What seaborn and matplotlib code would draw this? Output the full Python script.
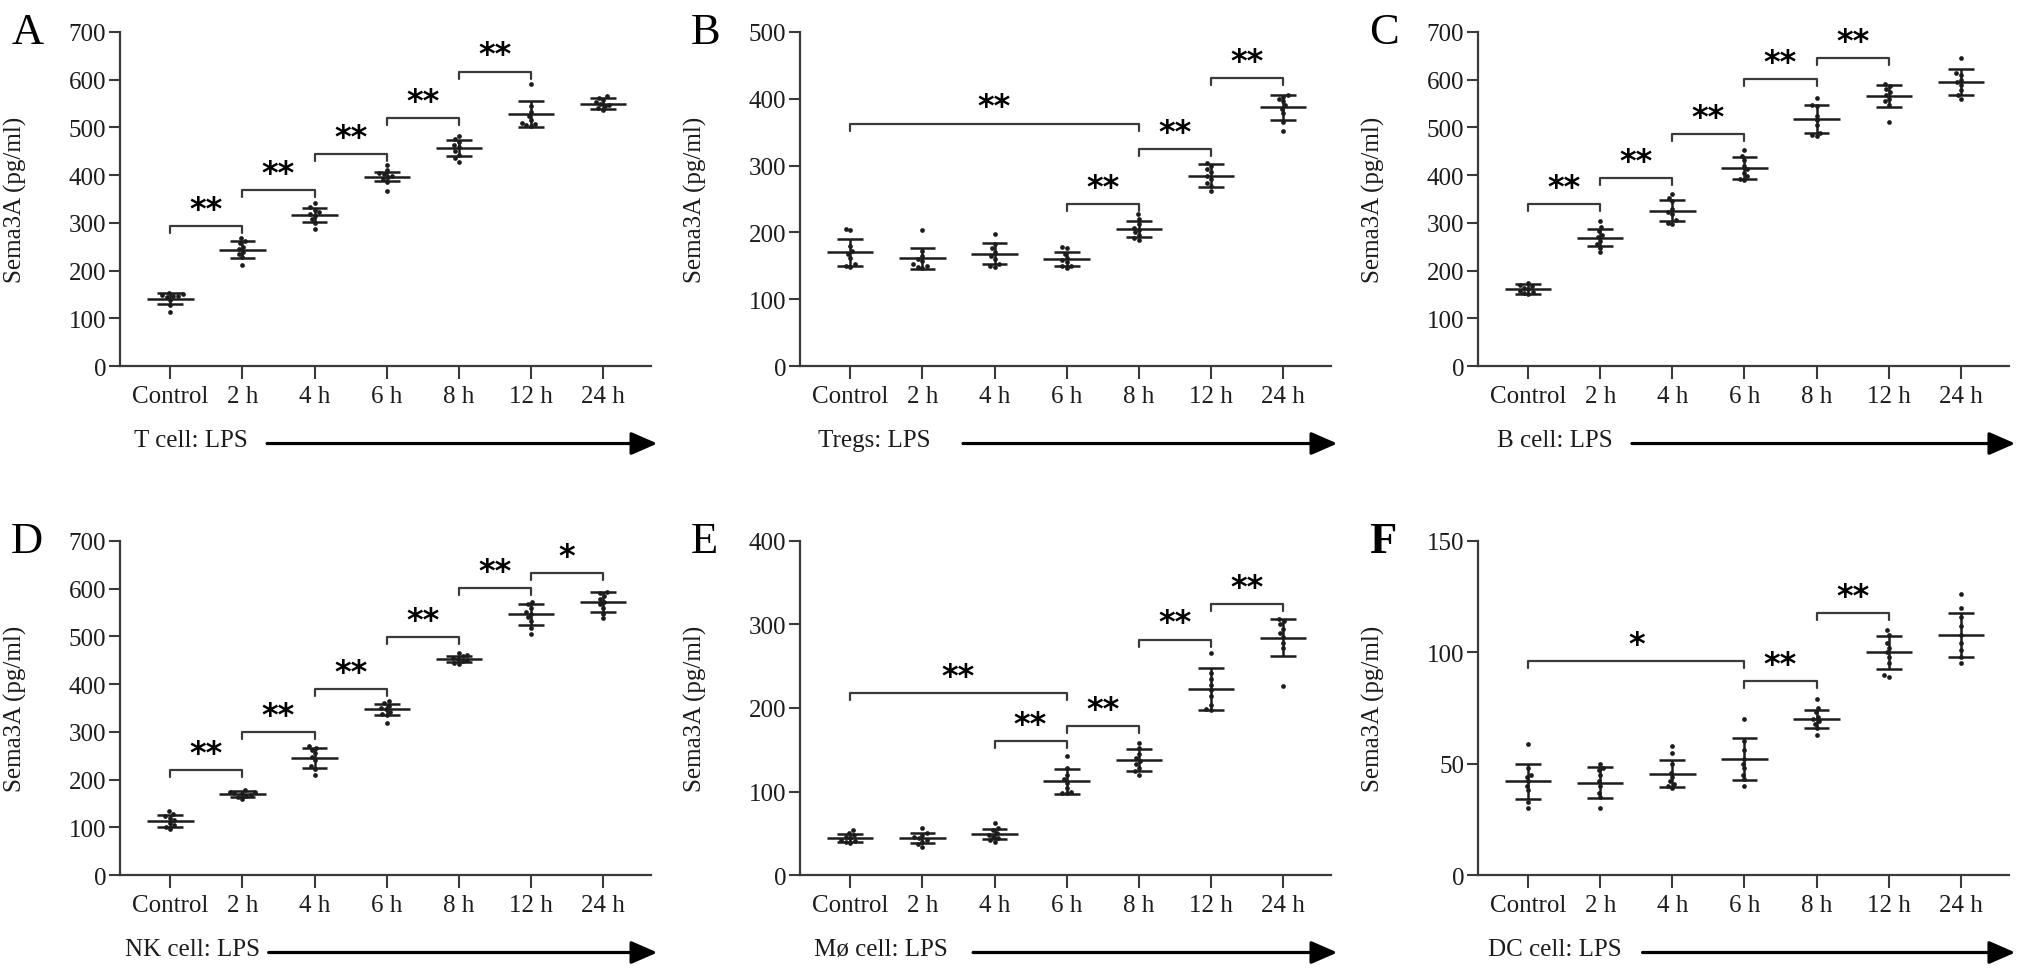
import numpy as np
import pandas as pd
import matplotlib
matplotlib.use('Agg')
import matplotlib.pyplot as plt
import seaborn as sns

# Sema3A secretion (pg/ml) after LPS stimulation
groups = ['Control', '2 h', '4 h', '6 h', '8 h', '12 h', '24 h']

# A - T cell
tcell_points = [
    [152, 150, 149, 147, 146, 144, 138, 128, 113],
    [268, 262, 258, 250, 245, 240, 235, 228, 211],
    [342, 333, 328, 322, 318, 315, 308, 300, 288],
    [422, 410, 405, 402, 399, 396, 392, 385, 366],
    [483, 476, 470, 463, 458, 450, 443, 435, 428],
    [590, 545, 532, 524, 515, 510, 508, 505, 503],
    [565, 562, 558, 553, 550, 548, 545, 541, 536],
]
tcell_mean = [141, 244, 317, 397, 457, 528, 550]
tcell_sd = [12, 18, 15, 10, 17, 27, 11]
tcell_sig = [(0, 1, 294, '**'), (1, 2, 369, '**'), (2, 3, 445, '**'),
             (3, 4, 520, '**'), (4, 5, 617, '**')]

# B - Tregs
treg_points = [
    [205, 203, 180, 172, 168, 162, 152, 150, 148],
    [203, 172, 165, 160, 157, 152, 150, 148, 147],
    [197, 182, 176, 170, 165, 160, 152, 150, 148],
    [178, 176, 168, 162, 158, 155, 150, 149, 147],
    [227, 220, 212, 207, 204, 200, 196, 192, 189],
    [304, 300, 295, 290, 285, 280, 274, 270, 262],
    [406, 403, 400, 396, 390, 385, 378, 365, 352],
]
treg_mean = [170, 161, 168, 160, 205, 285, 387]
treg_sd = [20, 16, 16, 10, 12, 17, 18]
treg_sig = [(0, 4, 363, '**'), (3, 4, 243, '**'), (4, 5, 325, '**'),
            (5, 6, 431, '**')]

# C - B cell
bcell_points = [
    [175, 170, 167, 164, 161, 158, 155, 152, 150],
    [304, 292, 283, 275, 270, 262, 255, 248, 238],
    [360, 352, 345, 330, 322, 318, 305, 300, 298],
    [452, 440, 432, 420, 412, 405, 398, 392, 390],
    [562, 548, 545, 525, 515, 505, 488, 484, 482],
    [590, 586, 580, 575, 568, 560, 555, 548, 512],
    [645, 615, 610, 600, 595, 588, 578, 568, 560],
]
bcell_mean = [161, 269, 325, 415, 518, 566, 595]
bcell_sd = [10, 18, 22, 23, 30, 23, 27]
bcell_sig = [(0, 1, 339, '**'), (1, 2, 394, '**'), (2, 3, 486, '**'),
             (3, 4, 602, '**'), (4, 5, 645, '**')]

# D - NK cell
nk_points = [
    [135, 128, 124, 120, 115, 110, 104, 100, 97],
    [178, 175, 173, 171, 170, 168, 166, 164, 160],
    [270, 266, 262, 255, 248, 240, 228, 222, 210],
    [365, 360, 355, 350, 347, 342, 338, 335, 318],
    [465, 462, 458, 455, 453, 450, 448, 445, 442],
    [572, 568, 560, 552, 548, 540, 532, 518, 505],
    [593, 590, 585, 578, 572, 568, 560, 548, 538],
]
nk_mean = [113, 170, 245, 347, 453, 546, 573]
nk_sd = [12, 5.5, 21, 12, 7, 22, 21]
nk_sig = [(0, 1, 220, '**'), (1, 2, 299, '**'), (2, 3, 390, '**'),
          (3, 4, 499, '**'), (4, 5, 601, '**'), (5, 6, 632, '*')]

# E - macrophage
mo_points = [
    [54, 50, 48, 46, 44, 42, 41, 39, 38],
    [56, 50, 48, 45, 44, 42, 40, 37, 34],
    [62, 56, 54, 50, 48, 46, 44, 42, 40],
    [142, 128, 120, 115, 110, 104, 100, 98, 98],
    [158, 152, 145, 140, 137, 133, 128, 124, 120],
    [266, 242, 235, 228, 222, 214, 204, 199, 197],
    [306, 304, 300, 295, 290, 285, 278, 272, 226],
]
mo_mean = [44, 44, 49, 112, 138, 223, 284]
mo_sd = [5, 6, 6, 15, 13, 25, 22]
mo_sig = [(0, 3, 218, '**'), (2, 3, 160, '**'), (3, 4, 178, '**'),
          (4, 5, 282, '**'), (5, 6, 324, '**')]

# F - DC
dc_points = [
    [59, 48, 45, 44, 42, 40, 38, 33, 30],
    [50, 48, 47, 45, 42, 40, 37, 35, 30],
    [58, 55, 50, 46, 44, 42, 41, 40, 39],
    [70, 60, 56, 52, 50, 48, 45, 43, 40],
    [79, 75, 73, 71, 70, 69, 68, 66, 63],
    [110, 108, 104, 102, 100, 98, 95, 90, 89],
    [126, 120, 116, 112, 108, 104, 101, 98, 95],
]
dc_mean = [42, 41.5, 45.5, 52, 70.2, 100, 107.8]
dc_sd = [8, 7, 6, 9.5, 4, 7.5, 9.7]
dc_sig = [(0, 3, 96, '*'), (3, 4, 87, '**'), (4, 5, 117.5, '**')]

panel_letters = ['A', 'B', 'C', 'D', 'E', 'F']
cell_labels = ['T cell: LPS', 'Tregs: LPS', 'B cell: LPS',
               'NK cell: LPS', 'M\u00f8 cell: LPS', 'DC cell: LPS']
y_max = [700, 500, 700, 700, 400, 150]
y_step = [100, 100, 100, 100, 100, 50]

panels = [
    (tcell_points, tcell_mean, tcell_sd, tcell_sig),
    (treg_points, treg_mean, treg_sd, treg_sig),
    (bcell_points, bcell_mean, bcell_sd, bcell_sig),
    (nk_points, nk_mean, nk_sd, nk_sig),
    (mo_points, mo_mean, mo_sd, mo_sig),
    (dc_points, dc_mean, dc_sd, dc_sig),
]

# layout (figure fractions / axes fractions)
col_left = [0.0591, 0.3939, 0.7277]
row_bottom = [0.6251, 0.1052]
ax_w, ax_h = 0.2614, 0.3412
label_x = [0.026, 0.034, 0.036, 0.010, 0.026, 0.019]
arrow_x0 = [0.277, 0.307, 0.290, 0.280, 0.326, 0.310]

sns.set_style('ticks')
plt.rcParams['font.family'] = ['Liberation Serif', 'DejaVu Serif']
ink = '#1c1c1c'
axis_col = '#3a3a3a'

fig = plt.figure(figsize=(20.31, 9.79), dpi=100)

for k, (pts, means, sds, sig) in enumerate(panels):
    r, c = divmod(k, 3)
    ax = fig.add_axes([col_left[c], row_bottom[r], ax_w, ax_h])

    df = pd.DataFrame({
        'group': [g for g, vals in zip(groups, pts) for _ in vals],
        'value': [v for vals in pts for v in vals],
    })
    sns.swarmplot(data=df, x='group', y='value', order=groups, ax=ax,
                  color=ink, size=3.4, zorder=3)

    xs = np.arange(len(groups))
    m = np.array(means, dtype=float)
    s = np.array(sds, dtype=float)
    ax.hlines(m, xs - 0.32, xs + 0.32, color=ink, lw=1.8, zorder=4)
    ax.vlines(xs, m - s, m + s, color=ink, lw=1.8, zorder=4)
    ax.hlines(m + s, xs - 0.18, xs + 0.18, color=ink, lw=1.8, zorder=4)
    ax.hlines(m - s, xs - 0.18, xs + 0.18, color=ink, lw=1.8, zorder=4)

    top = y_max[k]
    drop = top * 0.021
    for i, j, yb, lab in sig:
        ax.plot([i, i, j, j], [yb - drop, yb, yb, yb - drop],
                color=axis_col, lw=1.6, zorder=2)
        ax.annotate(lab, xy=((i + j) / 2, yb), xytext=(0, 12),
                    textcoords='offset points', ha='center', va='center',
                    fontsize=23, fontweight='bold', family='DejaVu Sans',
                    color='black')

    ax.set_xlim(-0.7, 6.67)
    ax.set_ylim(0, top)
    ax.set_yticks(np.arange(0, top + 1, y_step[k]))
    ax.set_xticks(xs)
    ax.set_xticklabels(groups)
    ax.set_xlabel('')
    ax.set_ylabel('Sema3A (pg/ml)', fontsize=18, color=ink)
    ax.yaxis.set_label_coords(-0.175, 0.5)
    sns.despine(ax=ax)
    for side in ['left', 'bottom']:
        ax.spines[side].set_linewidth(1.6)
        ax.spines[side].set_color(axis_col)
    ax.tick_params(axis='y', length=8, width=1.5, pad=2, labelsize=18,
                   color=axis_col, labelcolor=ink)
    ax.tick_params(axis='x', length=9, width=1.5, pad=5, labelsize=18,
                   color=axis_col, labelcolor=ink)

    # panel letter
    ax.text(-0.205, 1.06, panel_letters[k], transform=ax.transAxes,
            fontsize=32, ha='left', va='top', color='black',
            fontweight='bold' if panel_letters[k] == 'F' else 'normal')

    # treatment label with arrow
    ya = -0.222
    ax.text(label_x[k], ya, cell_labels[k], transform=ax.transAxes,
            fontsize=18, ha='left', va='center', color=ink)
    ax.annotate('', xy=(1.012, ya - 0.01), xytext=(arrow_x0[k], ya - 0.01),
                xycoords='axes fraction', textcoords='axes fraction',
                arrowprops=dict(arrowstyle='-|>,head_length=0.8,head_width=0.35',
                                lw=2.3, color='black', mutation_scale=20,
                                shrinkA=0, shrinkB=0),
                annotation_clip=False)

fig.savefig('out.png', dpi=100)
